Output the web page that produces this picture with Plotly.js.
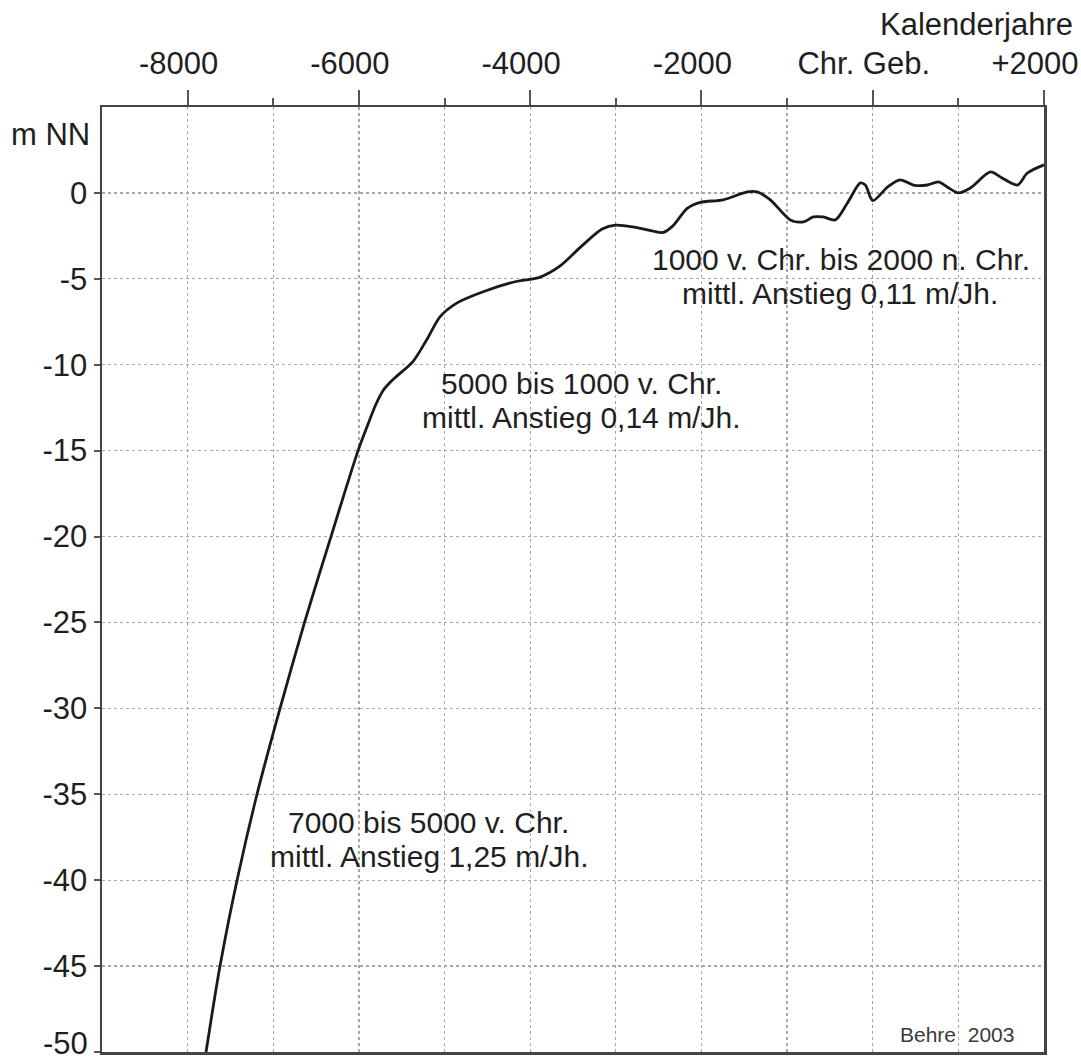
<!DOCTYPE html>
<html>
<head>
<meta charset="utf-8">
<script src="https://cdn.plot.ly/plotly-3.0.1.min.js"></script>
<style>html,body{margin:0;padding:0;background:#fff;}#chart{width:1081px;height:1064px;}</style>
</head>
<body>
<div id="chart"></div>
<script>
// Calendar years (negative = BC) and sea level (m NN)
var years = [-7785, -7622, -7423, -7190, -6921, -6635, -6326, -6010, -5904, -5810, -5717, -5640, -5554, -5367, -5203, -5051, -4853, -4549, -4199, -3883, -3650, -3400, -3160, -3000, -2770, -2446, -2330, -2166, -2014, -1745, -1465, -1350, -1196, -963, -810, -694, -577, -437, -297, -145, -86, 0, 175, 320, 474, 638, 766, 870, 1000, 1140, 1374, 1491, 1690, 1806, 2000];
var level = [-50, -45, -40, -35, -30, -25, -20, -15, -13.6, -12.4, -11.5, -11.05, -10.65, -9.8, -8.5, -7.2, -6.4, -5.75, -5.2, -4.9, -4.25, -3.1, -2.1, -1.88, -2.0, -2.3, -1.9, -0.9, -0.55, -0.4, 0.06, 0.06, -0.4, -1.57, -1.69, -1.4, -1.4, -1.57, -0.6, 0.58, 0.46, -0.45, 0.35, 0.76, 0.46, 0.46, 0.64, 0.35, 0, 0.29, 1.22, 0.93, 0.46, 1.16, 1.63];

var xMajorTicks = [-8000, -6000, -4000, -2000, 0, 2000];
var xMajorLabels = ["-8000", "-6000", "-4000", "-2000", "Chr. Geb.", "+2000"];
var xMinorTicks = [-7000, -5000, -3000, -1000, 1000];
var yTicks = [0, -5, -10, -15, -20, -25, -30, -35, -40, -45, -50];
var yLabels = ["0", "-5", "-10", "-15", "-20", "-25", "-30", "-35", "-40", "-45", ""];
var yBottomLabel = "-50";

var txtColor = '#1f1f1f';
var fam = '"Liberation Sans", Arial, Helvetica, sans-serif';
var font = {family: fam, size: 31, color: txtColor};
var noteFont = {family: fam, size: 30, color: txtColor};

var trace = {
  x: years, y: level, type: 'scatter', mode: 'lines',
  line: {color: '#1a1a1a', width: 2.8, shape: 'spline', smoothing: 0.8},
  hoverinfo: 'skip'
};

var gridCol = '#a8a8a8';

var layout = {
  width: 1081, height: 1064,
  margin: {l: 102, r: 37, t: 107, b: 12},
  paper_bgcolor: '#ffffff', plot_bgcolor: '#ffffff',
  font: font,
  showlegend: false,
  xaxis: {
    side: 'top', range: [-9000, 2000],
    tickmode: 'array', tickvals: xMajorTicks, ticktext: xMajorLabels,
    ticks: 'outside', ticklen: 15, tickwidth: 2, tickcolor: '#555',
    ticklabeloverflow: 'allow', ticklabelstandoff: 3, ticklabelshift: -9,
    showline: true, mirror: true, linecolor: '#444', linewidth: 2.5,
    showgrid: true, gridcolor: gridCol, gridwidth: 1.2, griddash: 'dot',
    zeroline: false,
    tickfont: font,
    minor: {tickmode: 'array', tickvals: xMinorTicks, ticks: 'outside', ticklen: 7, tickwidth: 2, tickcolor: '#555',
            showgrid: true, gridcolor: gridCol, gridwidth: 1.2, griddash: 'dot'},
    fixedrange: true
  },
  yaxis: {
    range: [-50, 5],
    tickmode: 'array', tickvals: yTicks, ticktext: yLabels,
    ticks: 'outside', ticklen: 6, tickwidth: 2, tickcolor: '#555',
    ticklabeloverflow: 'allow',
    showline: true, mirror: true, linecolor: '#444', linewidth: 2.5,
    showgrid: true, gridcolor: gridCol, gridwidth: 1.2, griddash: 'dot',
    zeroline: false,
    tickfont: font,
    fixedrange: true
  },
  annotations: [
    {xref: 'paper', yref: 'paper', x: -0.011, y: 0.971, xanchor: 'right', yanchor: 'middle', text: 'm NN', showarrow: false, font: font},
    {xref: 'paper', yref: 'paper', x: 1.033, y: 1.087, xanchor: 'right', yanchor: 'middle', text: 'Kalenderjahre', showarrow: false, font: font},
    {xref: 'paper', yref: 'paper', x: -0.0125, y: -0.0116, xanchor: 'right', yanchor: 'bottom', text: yBottomLabel, showarrow: false, font: font},
    {xref: 'x', yref: 'y', x: -371, y: -3.876, xanchor: 'center', yanchor: 'middle', text: '1000 v. Chr. bis 2000 n. Chr.', showarrow: false, font: noteFont},
    {xref: 'x', yref: 'y', x: -383, y: -5.856, xanchor: 'center', yanchor: 'middle', text: 'mittl. Anstieg 0,11 m/Jh.', showarrow: false, font: noteFont},
    {xref: 'x', yref: 'y', x: -3395, y: -11.065, xanchor: 'center', yanchor: 'middle', text: '5000 bis 1000 v. Chr.', showarrow: false, font: noteFont},
    {xref: 'x', yref: 'y', x: -3407, y: -13.044, xanchor: 'center', yanchor: 'middle', text: 'mittl. Anstieg 0,14 m/Jh.', showarrow: false, font: noteFont},
    {xref: 'x', yref: 'y', x: -5182, y: -36.62, xanchor: 'center', yanchor: 'middle', text: '7000 bis 5000 v. Chr.', showarrow: false, font: noteFont},
    {xref: 'x', yref: 'y', x: -5182, y: -38.60, xanchor: 'center', yanchor: 'middle', text: 'mittl. Anstieg 1,25 m/Jh.', showarrow: false, font: noteFont},
    {xref: 'x', yref: 'y', x: 984, y: -49.0, xanchor: 'center', yanchor: 'middle', text: 'Behre  2003', showarrow: false,
     font: {family: fam, size: 21, color: '#3a3a3a'}}
  ]
};

Plotly.newPlot('chart', [trace], layout, {displayModeBar: false, staticPlot: true});
</script>
</body>
</html>
